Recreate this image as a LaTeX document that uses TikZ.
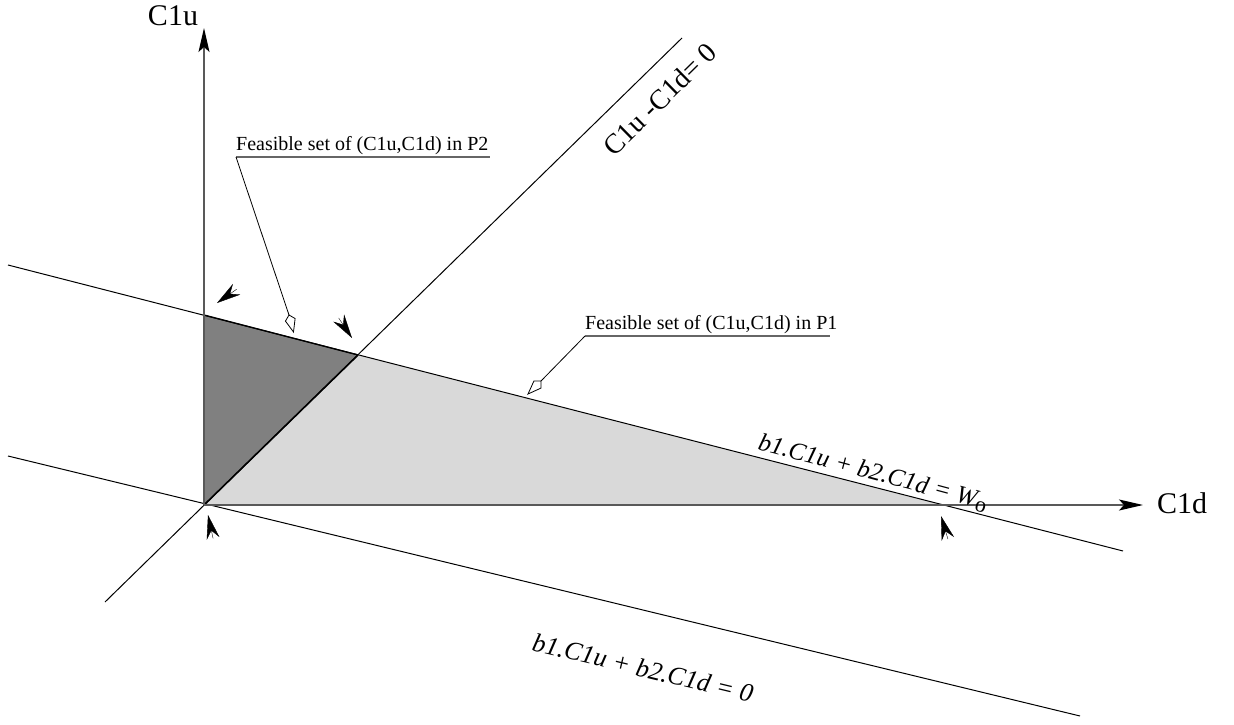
\documentclass[tikz,border=0pt]{standalone}
\usepackage{fontspec}
\setmainfont{Liberation Serif}
\usetikzlibrary{arrows.meta,calc}
\begin{document}
\begin{tikzpicture}[x=1pt,y=-1pt,
  thinline/.style={line width=1pt, black},
  axisline/.style={line width=1.3pt, black!65, -{Stealth[length=24pt,width=11pt,inset=5pt,color=black]}},
  pointer/.style={line width=0.4pt, -{Stealth[length=24pt,width=13pt,inset=8pt]}},
  axislabel/.style={font=\fontsize{30}{30}\selectfont, inner sep=0pt},
  eqlabel/.style={font=\fontsize{25}{25}\selectfont\itshape, inner sep=0pt},
  calloutlabel/.style={font=\fontsize{20}{20}\selectfont, inner sep=0pt, anchor=base west},
  underline/.style={line width=1.4pt, black!60},
  leader/.style={line width=0.8pt, black},
  kite/.style={line width=0.8pt, black, fill=white},
]
\useasboundingbox (0,0) rectangle (1234,725);
% key points
\coordinate (O) at (204,505);
\coordinate (Q) at (204,315);
\coordinate (I) at (358,355);
\coordinate (R) at (943,505);
\coordinate (Wa) at (8,265);
\coordinate (Wb) at (1123,551);
\coordinate (Za) at (8,456);
\coordinate (Zb) at (1080,716);
\coordinate (Da) at (105,602);
\coordinate (Db) at (682,38);
\coordinate (Ytip) at (204,28);
\coordinate (Xtip) at (1143,505);
% regions
\fill[black!15] (O) -- (I) -- (R) -- cycle;
\fill[black!50] (O) -- (Q) -- (I) -- cycle;
% lines
\draw[thinline] (Wa) -- (Wb);
\draw[thinline] (Za) -- (Zb);
\draw[thinline] (Da) -- (Db);
\draw[line width=1.6pt] (O) -- (I);
\draw[line width=1.3pt] (Q) -- (I);
% axes
\draw[axisline] (O) -- (Ytip);
\draw[axisline] (O) -- (Xtip);
\node[axislabel] (c1u) at (173,16) {C1u};
\node[axislabel, anchor=west] (c1d) at (1157,503) {C1d};
% line labels
\node[font=\fontsize{28}{28}\selectfont, inner sep=0pt, rotate=44.5] (diaglab) at (660,99) {C1u -C1d= 0};
\node[eqlabel, rotate=-15] (wolab) at (873,473) {b1.C1u + b2.C1d = W\raisebox{-0.3ex}{\upshape\fontsize{22}{22}\selectfont o}};
\node[eqlabel, font=\fontsize{26}{26}\selectfont\itshape, rotate=-13.5] (zerolab) at (643,668) {b1.C1u + b2.C1d = 0};
% vertex pointers
\coordinate (t1) at (217,303); \coordinate (d1) at (237,289);
\coordinate (t2) at (352,338); \coordinate (d2) at (338,317);
\coordinate (t3) at (208,515); \coordinate (d3) at (213,538);
\coordinate (t4) at (941,516); \coordinate (d4) at (947,536);
\draw[pointer] ($(t1)!24pt!(d1)$) -- (t1);
\draw[pointer] ($(t2)!24pt!(d2)$) -- (t2);
\draw[pointer] ($(t3)!24pt!(d3)$) -- (t3);
\draw[pointer] ($(t4)!24pt!(d4)$) -- (t4);
% callout P2
\coordinate (u2a) at (236,157);
\coordinate (u2b) at (490,157);
\node[calloutlabel] (p2lab) at (236,150) {Feasible set of (C1u,C1d) in P2};
\draw[underline] (u2a) -- (u2b);
\coordinate (k2s) at (289,315);
\coordinate (k2t) at (293.5,332);
\draw[leader] (u2a) -- (k2s);
\draw[kite] (k2s) -- ($(k2s)!5pt!(k2t)!5pt!90:(k2t)$) -- (k2t) -- ($(k2s)!5pt!(k2t)!5pt!-90:(k2t)$) -- cycle;
% callout P1
\coordinate (u1a) at (585,336);
\coordinate (u1b) at (830,336);
\node[calloutlabel] (p1lab) at (585,329) {Feasible set of (C1u,C1d) in P1};
\draw[underline] (u1a) -- (u1b);
\coordinate (k1s) at (541,381);
\coordinate (k1t) at (528,394);
\draw[leader] (u1a) -- (k1s);
\draw[kite] (k1s) -- ($(k1s)!5pt!(k1t)!5pt!90:(k1t)$) -- (k1t) -- ($(k1s)!5pt!(k1t)!5pt!-90:(k1t)$) -- cycle;
\end{tikzpicture}
\end{document}
